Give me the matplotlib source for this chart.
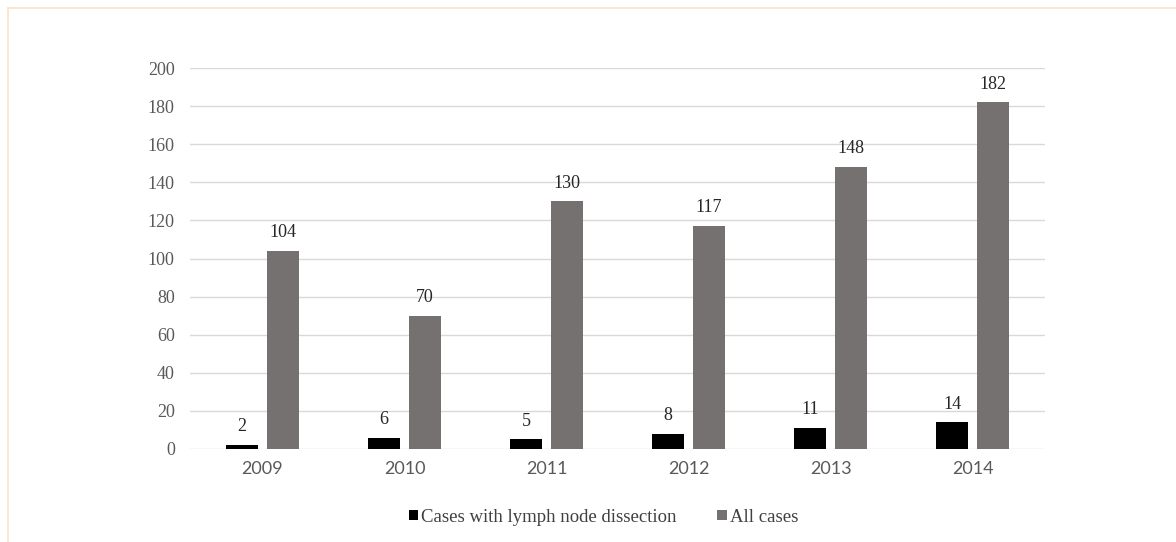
import numpy as np
import matplotlib
matplotlib.use("Agg")
from matplotlib import pyplot as plt
from matplotlib.lines import Line2D

years = ['2009', '2010', '2011', '2012', '2013', '2014']
lymph = [2, 6, 5, 8, 11, 14]
all_cases = [104, 70, 130, 117, 148, 182]

fig = plt.figure(figsize=(11.76, 5.42), dpi=100)
ax = fig.add_axes([0.1616, 0.1716, 0.7270, 0.7029])

pos = np.arange(len(years))
w = 0.225
off = 0.144
b1 = ax.bar(pos - off, lymph, w, color='black', label='Cases with lymph node dissection', zorder=3)
b2 = ax.bar(pos + off, all_cases, w, color='#767171', label='All cases', zorder=3)

for bars, vals in ((b1, lymph), (b2, all_cases)):
    for r, v in zip(bars, vals):
        ax.annotate(str(v), (r.get_x() + r.get_width() / 2, v), xytext=(0, 7),
                    textcoords='offset points', ha='center', va='bottom',
                    fontsize=13, family='Liberation Serif', color='#262626')

ax.set_xlim(-0.51, 5.51)
ax.set_ylim(0, 200)
ax.set_yticks(np.arange(0, 201, 20))
ax.set_xticks(pos)
ax.set_xticklabels(years, family='Lato', fontsize=13, color='#595959')
for t in ax.get_yticklabels():
    t.set_family('Liberation Serif')
    t.set_fontsize(13)
    t.set_color('#595959')
ax.tick_params(axis='both', length=0)
ax.tick_params(axis='y', pad=11)
ax.tick_params(axis='x', pad=9)
ax.grid(axis='y', color='#d9d9d9', linewidth=1, zorder=0)
for s in ax.spines.values():
    s.set_visible(False)

leg = fig.legend(handles=[b1, b2], loc='center', bbox_to_anchor=(0.513, 0.046), ncol=2,
                 frameon=False, handlelength=0.5, handleheight=0.5, handletextpad=0.15,
                 columnspacing=2.2, prop={'family': 'Liberation Serif', 'size': 13.5})
for t in leg.get_texts():
    t.set_color('#404040')

# light frame along the top and left edges
edge = '#fde2c6'
fig.add_artist(Line2D([8 / 1176, 1.0], [1 - 8 / 542, 1 - 8 / 542], transform=fig.transFigure, color=edge, linewidth=1.2))
fig.add_artist(Line2D([8 / 1176, 8 / 1176], [0.0, 1 - 8 / 542], transform=fig.transFigure, color=edge, linewidth=1.2))

fig.savefig('out.png', dpi=100)
